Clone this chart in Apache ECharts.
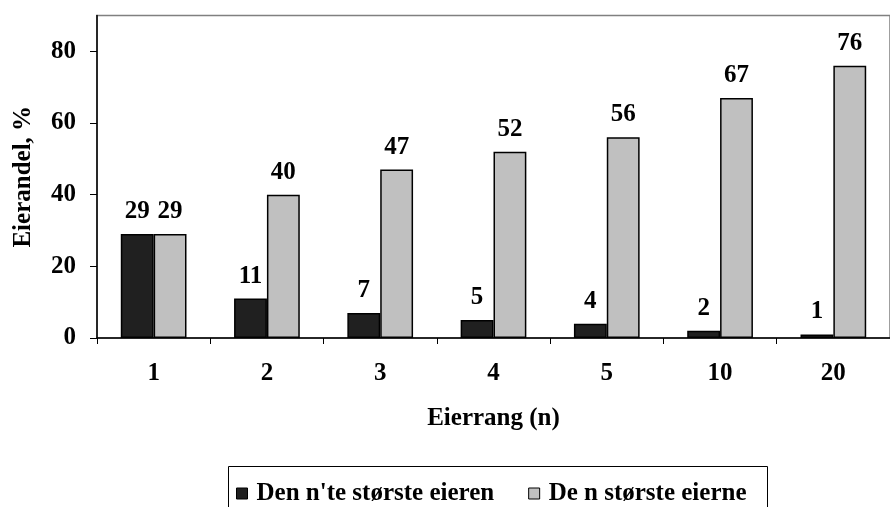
<!DOCTYPE html>
<html>
<head>
<meta charset="utf-8">
<script src="https://cdn.jsdelivr.net/npm/echarts@6/dist/echarts.min.js"></script>
<style>
html,body{margin:0;padding:0;background:#fff;}
#chart{width:890px;height:507px;}
</style>
</head>
<body>
<div id="chart"></div>
<script>
const categories = ['1', '2', '3', '4', '5', '10', '20'];
const seriesNames = ["Den n'te største eieren", 'De n største eierne'];
const nthOwner = [29, 11, 7, 5, 4, 2, 1];
const topNOwners = [29, 40, 47, 52, 56, 67, 76];
const yTicks = [0, 20, 40, 60, 80];

const FONT = '"Liberation Serif", "Times New Roman", serif';
const FS = 25;
const chart = echarts.init(document.getElementById('chart'), null, {renderer: 'canvas'});

const labelStyle = {
  show: true, position: 'top', distance: 10,
  fontFamily: FONT, fontWeight: 'bold', fontSize: FS, color: '#000'
};

chart.setOption({
  animation: false,
  backgroundColor: '#fff',
  textStyle: {fontFamily: FONT},
  grid: {
    left: 97, top: 15.5, bottom: 169, right: -8,
    show: true, borderColor: '#808080', borderWidth: 1.5, backgroundColor: 'transparent'
  },
  graphic: [{
    type: 'rect', left: 228, top: 466, z: 0,
    shape: {width: 539, height: 60},
    style: {fill: '#fff', stroke: '#000', lineWidth: 1}
  }],
  legend: {
    left: 231, top: 476, itemGap: 34, itemWidth: 11, itemHeight: 11,
    icon: 'rect', z: 5,
    textStyle: {fontFamily: FONT, fontWeight: 'bold', fontSize: FS, color: '#000', padding: [0, 0, 0, 4]},
    data: [
      {name: seriesNames[0], itemStyle: {color: '#202020', borderColor: '#000', borderWidth: 1}},
      {name: seriesNames[1], itemStyle: {color: '#c0c0c0', borderColor: '#000', borderWidth: 1}}
    ]
  },
  xAxis: {
    type: 'category', data: categories,
    name: 'Eierrang (n)', nameLocation: 'middle', nameGap: 68,
    nameTextStyle: {fontFamily: FONT, fontWeight: 'bold', fontSize: FS, color: '#000'},
    axisLine: {lineStyle: {color: '#000', width: 1.5}},
    axisTick: {show: true, inside: false, length: 6, interval: 0, lineStyle: {color: '#000', width: 1}},
    axisLabel: {margin: 23, fontFamily: FONT, fontWeight: 'bold', fontSize: FS, color: '#000', interval: 0},
    splitLine: {show: false}
  },
  yAxis: {
    type: 'value', min: 0, max: 90, interval: 20,
    name: 'Eierandel, %', nameLocation: 'middle', nameGap: 61, nameRotate: 90,
    nameTextStyle: {fontFamily: FONT, fontWeight: 'bold', fontSize: FS, color: '#000'},
    axisLine: {show: true, lineStyle: {color: '#000', width: 1.5}},
    axisTick: {show: true, length: 7, lineStyle: {color: '#000', width: 1}, customValues: yTicks},
    axisLabel: {margin: 21, fontFamily: FONT, fontWeight: 'bold', fontSize: FS, color: '#000', customValues: yTicks},
    splitLine: {show: false}
  },
  series: [
    {
      name: seriesNames[0], type: 'bar', data: nthOwner,
      barGap: '0%', barCategoryGap: '42%',
      itemStyle: {color: '#202020', borderColor: '#000', borderWidth: 1.5},
      label: labelStyle
    },
    {
      name: seriesNames[1], type: 'bar', data: topNOwners,
      barGap: '0%', barCategoryGap: '42%',
      itemStyle: {color: '#c0c0c0', borderColor: '#000', borderWidth: 1.5},
      label: labelStyle
    }
  ]
});
</script>
</body>
</html>
